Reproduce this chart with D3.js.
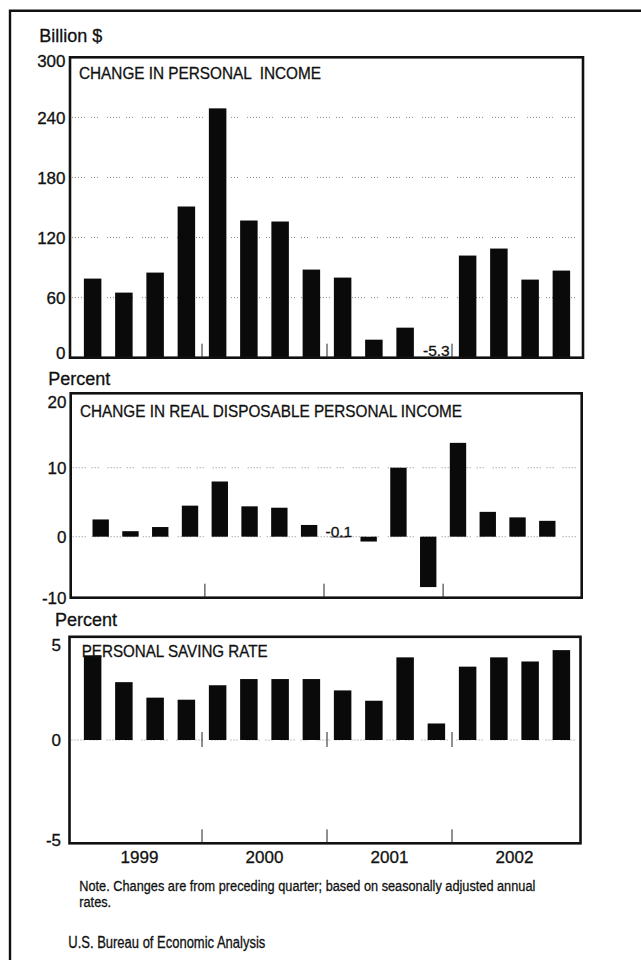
<!DOCTYPE html>
<html>
<head>
<meta charset="utf-8">
<script src="https://cdn.jsdelivr.net/npm/d3@7/dist/d3.min.js"></script>
<style>
  html, body { margin: 0; padding: 0; background: #fff; }
  svg { display: block; }
  text { font-family: "Liberation Sans", Arial, Helvetica, sans-serif; fill: #111; stroke: #111; stroke-width: 0.3px; }
</style>
</head>
<body>
<svg id="chart" width="641" height="960"></svg>
<script>
// ---------------- DATA ----------------
const quarters = ["1999Q1","1999Q2","1999Q3","1999Q4",
                  "2000Q1","2000Q2","2000Q3","2000Q4",
                  "2001Q1","2001Q2","2001Q3","2001Q4",
                  "2002Q1","2002Q2","2002Q3","2002Q4"];
const years = ["1999","2000","2001","2002"];

// Change in personal income, billion $
const personalIncome = [79, 65, 85, 151, 249, 137, 136, 88, 80, 18, 30, -5.3, 102, 109, 78, 87];
// Change in real disposable personal income, percent
const realDPI = [2.5, 0.8, 1.4, 4.5, 8.0, 4.4, 4.2, 1.7, -0.1, -0.7, 10.0, -7.3, 13.6, 3.6, 2.8, 2.3];
// Personal saving rate, percent
const savingRate = [4.1, 2.8, 2.05, 1.95, 2.65, 2.95, 2.95, 2.95, 2.4, 1.9, 4.0, 0.8, 3.55, 4.0, 3.8, 4.35];

const ticks1 = [0, 60, 120, 180, 240, 300];
const ticks2 = [-10, 0, 10, 20];
const ticks3 = [-5, 0, 5];
const grid1 = [60, 120, 180, 240];
const grid2 = [0, 10];
const grid3 = [0];

const titles = ["CHANGE IN PERSONAL  INCOME", "CHANGE IN REAL DISPOSABLE PERSONAL INCOME", "PERSONAL SAVING RATE"];
const unitLabels = ["Billion $", "Percent", "Percent"];
const valueLabels1 = [{q: "2001Q4", text: "-5.3"}];
const valueLabels2 = [{q: "2001Q1", text: "-0.1"}];
const noteLines = ["Note. Changes are from preceding quarter; based on seasonally adjusted annual", "rates."];
const source = "U.S. Bureau of Economic Analysis";

// ---------------- LAYOUT ----------------
const svg = d3.select("#chart");
svg.append("rect").attr("width", 641).attr("height", 960).attr("fill", "#fff");

const xA = d3.scaleBand().domain(quarters).range([77, 577]).paddingInner(0.44).paddingOuter(0.22);
const xB = d3.scaleBand().domain(quarters).range([85.8, 562.2]).paddingInner(0.45).paddingOuter(0.225);

const panels = [
  { data: personalIncome, x: xA, y: d3.scaleLinear([0, 300], [357.7, 57.3]),
    box: {x0: 70, x1: 583, y0: 57.3, y1: 357.7}, ticks: ticks1, grid: grid1,
    tickX: 65.5, clamp: [4, -5], title: titles[0], titleX: 79, titleY: 79, titleW: 242,
    unit: unitLabels[0], unitX: 39.3, unitY: 42.3, zeroTicks: false, labels: valueLabels1, labelDy: -2 },
  { data: realDPI, x: xB, y: d3.scaleLinear([-10, 20], [605.7, 398.7]),
    box: {x0: 70.7, x1: 581.7, y0: 393.3, y1: 597.7}, ticks: ticks2, grid: grid2,
    tickX: 66.5, clamp: [9, 0], title: titles[1], titleX: 80, titleY: 416.7, titleW: 382,
    unit: unitLabels[1], unitX: 48.3, unitY: 385, zeroTicks: false, labels: valueLabels2, labelDy: 0 },
  { data: savingRate, x: xA, y: d3.scaleLinear([-5, 5], [843.3, 636.7]),
    box: {x0: 69.5, x1: 580.5, y0: 636.8, y1: 843.3}, ticks: ticks3, grid: grid3,
    tickX: 61, clamp: [8, -3], title: titles[2], titleX: 81.7, titleY: 657.3, titleW: 186,
    unit: unitLabels[2], unitX: 55, unitY: 626, zeroTicks: true, labels: [], labelDy: 0 }
];

function fitText(sel, width) {
  const n = sel.node();
  const w = n.getComputedTextLength();
  if (w > 0) sel.attr("textLength", width).attr("lengthAdjust", "spacingAndGlyphs");
  return w;
}

// outer frame
svg.append("path")
  .attr("d", "M10,962 V10.7 H643")
  .attr("fill", "none").attr("stroke", "#111").attr("stroke-width", 2.4);

panels.forEach((p, pi) => {
  const g = svg.append("g");
  const b = p.box;
  const clipId = "clip" + pi;
  svg.append("clipPath").attr("id", clipId)
    .append("rect").attr("x", b.x0).attr("y", b.y0).attr("width", b.x1 - b.x0).attr("height", b.y1 - b.y0);

  // gridlines
  g.selectAll(".grid").data(p.grid).join("line")
    .attr("x1", b.x0 + 2).attr("x2", b.x1 - 2)
    .attr("y1", d => p.y(d)).attr("y2", d => p.y(d))
    .attr("stroke", "#8a8a8a").attr("stroke-width", 1)
    .attr("stroke-dasharray", "1,2,1,2,1,2,1,2,1,6,1,2,1,2,1,9");

  // bars
  g.append("g").attr("clip-path", `url(#${clipId})`)
    .selectAll("rect").data(p.data).join("rect")
    .attr("x", (d, i) => p.x(quarters[i]))
    .attr("width", p.x.bandwidth())
    .attr("y", d => p.y(Math.max(0, d)))
    .attr("height", d => Math.abs(p.y(d) - p.y(0)))
    .attr("fill", "#0a0a0a");

  // frame
  g.append("rect")
    .attr("x", b.x0).attr("y", b.y0).attr("width", b.x1 - b.x0).attr("height", b.y1 - b.y0)
    .attr("fill", "none").attr("stroke", "#111").attr("stroke-width", 2.6);

  // year-boundary ticks
  const bounds = [4, 8, 12].map(k => p.x.range()[0] + k * p.x.step());
  g.selectAll(".yt").data(bounds).join("line")
    .attr("x1", d => d).attr("x2", d => d)
    .attr("y1", b.y1 - 14).attr("y2", b.y1)
    .attr("stroke", "#222").attr("stroke-width", 1);
  if (p.zeroTicks) {
    g.selectAll(".zt").data(bounds).join("line")
      .attr("x1", d => d).attr("x2", d => d)
      .attr("y1", p.y(0) - 8).attr("y2", p.y(0) + 7)
      .attr("stroke", "#222").attr("stroke-width", 1);
  }

  // y tick labels
  g.selectAll(".tl").data(p.ticks).join("text")
    .attr("x", p.tickX)
    .attr("y", d => Math.min(b.y1 + p.clamp[1], Math.max(b.y0 + p.clamp[0], p.y(d))))
    .attr("dy", "0.36em")
    .attr("text-anchor", "end")
    .attr("font-size", 17)
    .text(d => d);

  // unit label
  g.append("text").attr("x", p.unitX).attr("y", p.unitY)
    .attr("font-size", 18).text(p.unit);

  // title
  const t = g.append("text").attr("x", p.titleX).attr("y", p.titleY)
    .attr("font-size", 16.5).style("white-space", "pre").text(p.title);
  fitText(t, p.titleW);

  // value labels
  g.selectAll(".vl").data(p.labels).join("text")
    .attr("x", d => p.x(d.q) + p.x.bandwidth() / 2)
    .attr("y", p.y(0) + p.labelDy)
    .attr("text-anchor", "middle")
    .attr("font-size", 15.5)
    .text(d => d.text);
});

// year labels (bottom axis of last panel)
const yearCenters = years.map((yr, j) => xA.range()[0] + (4 * j + 2) * xA.step());
svg.selectAll(".year").data(years).join("text")
  .attr("x", (d, j) => yearCenters[j])
  .attr("y", 863.3)
  .attr("text-anchor", "middle")
  .attr("font-size", 17)
  .text(d => d);

// note
const n1 = svg.append("text").attr("x", 79.3).attr("y", 891).attr("font-size", 15.5).text(noteLines[0]);
const nat = n1.node().getComputedTextLength();
const ratio = 456 / nat;
fitText(n1, 456);
const n2 = svg.append("text").attr("x", 79.3).attr("y", 907.3).attr("font-size", 15.5).text(noteLines[1]);
const nat2 = n2.node().getComputedTextLength();
n2.attr("textLength", nat2 * ratio).attr("lengthAdjust", "spacingAndGlyphs");

// source
const s = svg.append("text").attr("x", 68.3).attr("y", 948.3).attr("font-size", 16).text(source);
fitText(s, 197);
</script>
</body>
</html>
